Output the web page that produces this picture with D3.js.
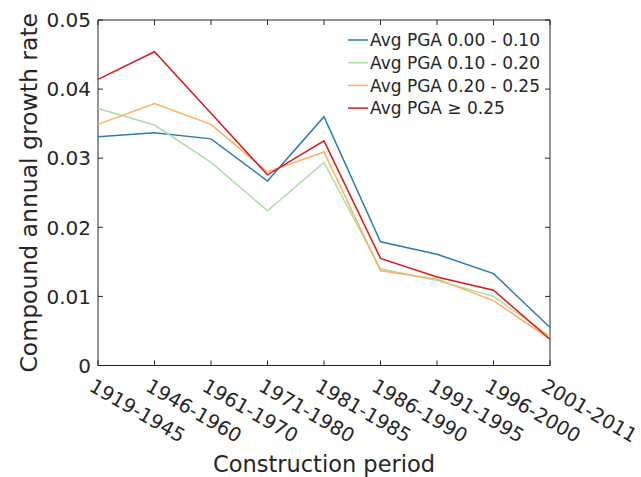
<!DOCTYPE html>
<html>
<head>
<meta charset="utf-8">
<script src="https://cdn.jsdelivr.net/npm/d3@7"></script>
<style>
  html, body { margin: 0; padding: 0; background: #fff; }
  svg { display: block; }
  text { font-family: "DejaVu Sans", Verdana, sans-serif; fill: #262626; }
</style>
</head>
<body>
<svg id="chart" width="641" height="477"></svg>
<script>
// Construction periods along the x axis
const periods = ["1919-1945", "1946-1960", "1961-1970", "1971-1980", "1981-1985",
                 "1986-1990", "1991-1995", "1996-2000", "2001-2011"];

// Compound annual growth rate per PGA band
const pga000to010 = [0.0331, 0.0337, 0.0328, 0.0267, 0.0360, 0.0179, 0.0161, 0.0133, 0.0055];
const pga010to020 = [0.0372, 0.0348, 0.0294, 0.0224, 0.0294, 0.0140, 0.0123, 0.0100, 0.0042];
const pga020to025 = [0.0349, 0.0379, 0.0349, 0.0280, 0.0309, 0.0137, 0.0125, 0.0094, 0.0038];
const pga025up    = [0.0414, 0.0454, 0.0365, 0.0276, 0.0325, 0.0155, 0.0128, 0.0109, 0.0038];

const seriesNames  = ["Avg PGA 0.00 - 0.10", "Avg PGA 0.10 - 0.20", "Avg PGA 0.20 - 0.25", "Avg PGA \u2265 0.25"];
const seriesColors = ["#2c7bb6", "#abdda4", "#fdae61", "#d7191c"];
const yTicks = [0, 0.01, 0.02, 0.03, 0.04, 0.05];

const series = [pga000to010, pga010to020, pga020to025, pga025up].map((v, i) => ({
  name: seriesNames[i], color: seriesColors[i], values: v
}));

const svg = d3.select("#chart");
const plotLeft = 98, plotRight = 550, plotTop = 20, plotBottom = 365.5;

const x = d3.scalePoint().domain(periods).range([plotLeft, plotRight]);
const y = d3.scaleLinear().domain([0, 0.05]).range([plotBottom, plotTop]);

const axisColor = "#262626";
const tickLen = 5;

// plot box
svg.append("rect")
  .attr("x", plotLeft).attr("y", plotTop)
  .attr("width", plotRight - plotLeft).attr("height", plotBottom - plotTop)
  .attr("fill", "none").attr("stroke", axisColor).attr("stroke-width", 1);

// inward ticks on all four sides
const g = svg.append("g").attr("stroke", axisColor).attr("stroke-width", 1);
periods.forEach(p => {
  g.append("line").attr("x1", x(p)).attr("x2", x(p)).attr("y1", plotBottom).attr("y2", plotBottom - tickLen);
  g.append("line").attr("x1", x(p)).attr("x2", x(p)).attr("y1", plotTop).attr("y2", plotTop + tickLen);
});
yTicks.forEach(t => {
  g.append("line").attr("x1", plotLeft).attr("x2", plotLeft + tickLen).attr("y1", y(t)).attr("y2", y(t));
  g.append("line").attr("x1", plotRight).attr("x2", plotRight - tickLen).attr("y1", y(t)).attr("y2", y(t));
});

// y tick labels
svg.append("g").selectAll("text").data(yTicks).join("text")
  .attr("x", plotLeft - 7).attr("y", d => y(d))
  .attr("dy", "0.36em")
  .attr("text-anchor", "end")
  .attr("font-size", 20)
  .text(d => d === 0 ? "0" : d3.format(".2f")(d));

// x tick labels, rotated
svg.append("g").selectAll("text").data(periods).join("text")
  .attr("transform", d => `translate(${x(d) - 10},390) rotate(30)`)
  .attr("text-anchor", "start")
  .attr("font-size", 19.5)
  .text(d => d);

// axis titles
svg.append("text")
  .attr("x", (plotLeft + plotRight) / 2).attr("y", 471.5)
  .attr("text-anchor", "middle")
  .attr("font-size", 22.5)
  .text("Construction period");

svg.append("text")
  .attr("transform", `translate(37,${(plotTop + plotBottom) / 2}) rotate(-90)`)
  .attr("text-anchor", "middle")
  .attr("font-size", 23.5)
  .text("Compound annual growth rate");

// series lines
const line = d3.line().x((d, i) => x(periods[i])).y(d => y(d));
svg.append("g").selectAll("path").data(series).join("path")
  .attr("d", d => line(d.values))
  .attr("fill", "none")
  .attr("stroke", d => d.color)
  .attr("stroke-width", 1.5)
  .attr("stroke-linejoin", "miter");

// legend
const leg = svg.append("g");
series.forEach((s, i) => {
  const cy = 40 + i * 22.7;
  leg.append("line").attr("x1", 348).attr("x2", 368).attr("y1", cy).attr("y2", cy)
    .attr("stroke", s.color).attr("stroke-width", 1.5);
  leg.append("text").attr("x", 370).attr("y", cy).attr("dy", "0.36em")
    .attr("font-size", 17).text(s.name);
});
</script>
</body>
</html>
